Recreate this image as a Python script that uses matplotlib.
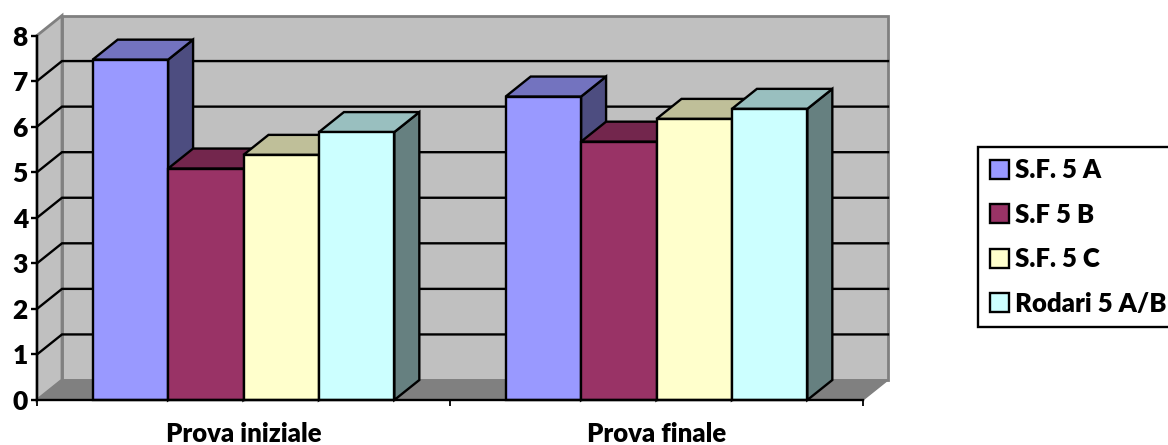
import matplotlib
matplotlib.use("Agg")
import matplotlib.pyplot as plt
from matplotlib.patches import Polygon, Patch
from matplotlib.colors import to_rgb

categories = ["Prova iniziale", "Prova finale"]
series_names = ["S.F. 5 A", "S.F 5 B", "S.F. 5 C", "Rodari 5 A/B"]
sf5a = [7.47, 6.66]
sf5b = [5.08, 5.67]
sf5c = [5.38, 6.17]
rodari = [5.88, 6.39]
series_values = [sf5a, sf5b, sf5c, rodari]
colors = ["#9999FF", "#993366", "#FFFFCC", "#CCFFFF"]
y_ticks = [0, 1, 2, 3, 4, 5, 6, 7, 8]

W, H = 1168, 445
plt.rcParams["font.family"] = ["Lato", "DejaVu Sans"]
plt.rcParams["font.weight"] = "bold"
fig = plt.figure(figsize=(W / 100, H / 100), dpi=100)
L, R, T, B = 37, 863, 35.5, 400
ax = fig.add_axes([L / W, 1 - B / H, (R - L) / W, (B - T) / H])
ax.set_xlim(0, 2)
ax.set_ylim(0, 8)
ax.patch.set_visible(False)

dx = 25 / ((R - L) / 2)
dy = 20 / ((B - T) / 8)
ymax = y_ticks[-1]
GREY = "#C0C0C0"
EDGE = "#808080"


def poly(pts, fc, ec, lw, z):
    ax.add_patch(Polygon(pts, closed=True, facecolor=fc, edgecolor=ec, linewidth=lw,
                         zorder=z, clip_on=False, joinstyle="miter"))


def shade(c, f):
    return tuple(v * f for v in to_rgb(c))


# walls and floor
poly([(dx, dy), (2 + dx, dy), (2 + dx, ymax + dy), (dx, ymax + dy)], GREY, EDGE, 2, 1)
poly([(0, 0), (dx, dy), (dx, ymax + dy), (0, ymax)], GREY, EDGE, 2, 1)
poly([(0, 0), (dx, dy), (2 + dx, dy), (2, 0)], EDGE, EDGE, 1, 1)

# gridlines on side wall and back wall
for v in y_ticks[1:-1]:
    ax.plot([0, dx, 2 + dx], [v, v + dy, v + dy], color="black", lw=1.7, zorder=2,
            clip_on=False, solid_joinstyle="miter")

# bars
width = 0.1826
centers = [0.5, 1.5]
z = 3
for gi, c in enumerate(centers):
    for si, vals in enumerate(series_values):
        x0 = c + (si - 2) * width
        x1 = x0 + width
        v = vals[gi]
        col = colors[si]
        poly([(x1, 0), (x1 + dx, dy), (x1 + dx, v + dy), (x1, v)], shade(col, 0.5), "black", 1.7, z)
        poly([(x0, v), (x0 + dx, v + dy), (x1 + dx, v + dy), (x1, v)], shade(col, 0.75), "black", 1.7, z)
        ax.bar(x0, v, width, align="edge", color=col, edgecolor="black", linewidth=1.7,
               zorder=z + 0.5, clip_on=False)
        z += 1

# axes
for s in ("top", "right"):
    ax.spines[s].set_visible(False)
for s in ("left", "bottom"):
    ax.spines[s].set_linewidth(1.7)
    ax.spines[s].set_zorder(50)
ax.set_yticks(y_ticks)
ax.set_yticklabels([str(v) for v in y_ticks], fontsize=19, fontweight="heavy", color="black")
ax.tick_params(axis="y", length=4.5, width=1.7, pad=2)
ax.set_xticks([0, 1, 2])
ax.set_xticklabels(["", "", ""])
ax.tick_params(axis="x", which="major", length=4.5, width=1.3)
ax.set_xticks(centers, minor=True)
ax.set_xticklabels(categories, minor=True, fontsize=18.5, fontweight="heavy", color="black")
ax.tick_params(axis="x", which="minor", length=0, pad=16)

# legend
handles = [Patch(facecolor=c, edgecolor="black", linewidth=1.7) for c in colors]
leg = fig.legend(handles, series_names, loc="upper left",
                 bbox_to_anchor=(978.5 / W, 1 - 146.5 / H), bbox_transform=fig.transFigure,
                 ncol=1, fontsize=18.5, frameon=True, fancybox=False, edgecolor="black",
                 framealpha=1, borderaxespad=0, handlelength=0.75, handleheight=0.75,
                 handletextpad=0.22, labelspacing=0.8, borderpad=0.45)
leg.get_frame().set_linewidth(1.7)
for t in leg.get_texts():
    t.set_fontweight("heavy")

fig.savefig("out.png", dpi=100)
